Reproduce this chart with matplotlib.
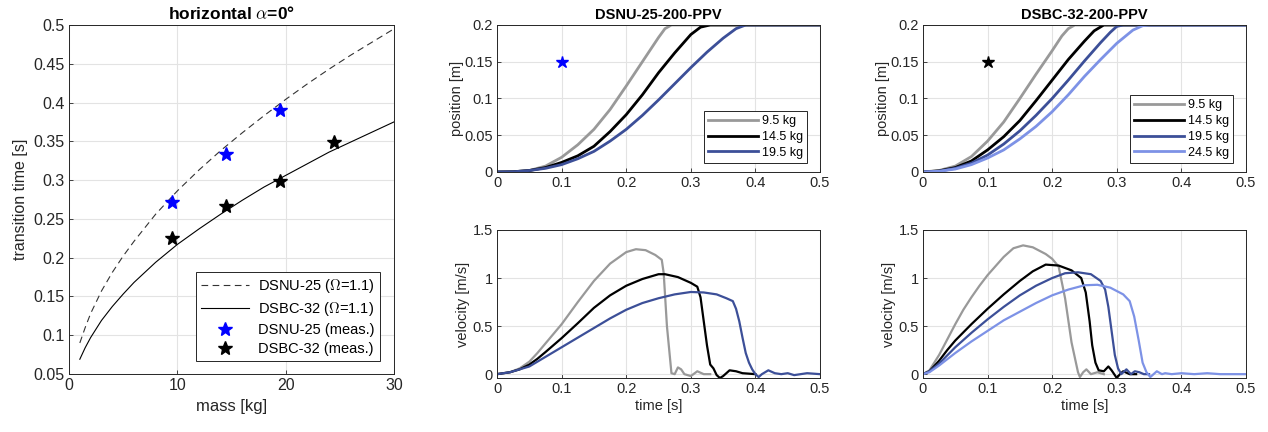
import numpy as np
import matplotlib
matplotlib.use('Agg')
import matplotlib.pyplot as plt

plt.rcParams['font.family'] = ['Liberation Sans', 'DejaVu Sans']
plt.rcParams['mathtext.fontset'] = 'cm'

# transition time vs mass (model curves)
mass_model = [1, 1.5, 2, 3, 4, 5, 6, 8, 10, 12, 14, 16, 18, 20, 22, 24, 26, 28, 30]
t_dsnu_model = [0.090, 0.110, 0.128, 0.157, 0.181, 0.202, 0.221, 0.256, 0.286, 0.313, 0.338,
                0.361, 0.383, 0.404, 0.424, 0.443, 0.461, 0.478, 0.495]
t_dsbc_model = [0.069, 0.084, 0.097, 0.119, 0.137, 0.153, 0.168, 0.194, 0.217, 0.237, 0.256,
                0.274, 0.291, 0.306, 0.321, 0.336, 0.349, 0.362, 0.375]
mass_dsnu_meas = [9.5, 14.5, 19.5]
t_dsnu_meas = [0.272, 0.333, 0.391]
mass_dsbc_meas = [9.5, 14.5, 19.5, 24.5]
t_dsbc_meas = [0.225, 0.267, 0.299, 0.349]

# DSNU-25-200-PPV position
dsnu_pos_t = {
    '9.5 kg': [0, 0.025, 0.05, 0.075, 0.1, 0.125, 0.15, 0.175, 0.2, 0.225, 0.25, 0.26, 0.27, 0.5],
    '14.5 kg': [0, 0.025, 0.05, 0.075, 0.1, 0.125, 0.15, 0.175, 0.2, 0.225, 0.25, 0.275, 0.3, 0.315, 0.33, 0.5],
    '19.5 kg': [0, 0.025, 0.05, 0.075, 0.1, 0.125, 0.15, 0.175, 0.2, 0.225, 0.25, 0.275, 0.3, 0.325, 0.35, 0.37, 0.385, 0.5],
}
dsnu_pos = {
    '9.5 kg': [0, 0.0003, 0.002, 0.008, 0.02, 0.037, 0.058, 0.085, 0.117, 0.15, 0.183, 0.195, 0.2, 0.2],
    '14.5 kg': [0, 0.0003, 0.002, 0.006, 0.013, 0.022, 0.035, 0.055, 0.078, 0.105, 0.135, 0.162, 0.187, 0.197, 0.2, 0.2],
    '19.5 kg': [0, 0.0003, 0.002, 0.005, 0.01, 0.018, 0.028, 0.042, 0.058, 0.077, 0.098, 0.12, 0.142, 0.163, 0.182, 0.195, 0.2, 0.2],
}
# DSNU-25-200-PPV velocity
dsnu_vel_t = {
    '9.5 kg': [0, 0.02, 0.035, 0.05, 0.0625, 0.075, 0.0875, 0.1, 0.125, 0.15, 0.175, 0.2, 0.215, 0.23, 0.245,
               0.255, 0.258, 0.263, 0.27, 0.275, 0.28, 0.285, 0.29, 0.3, 0.31, 0.32, 0.33],
    '14.5 kg': [0, 0.02, 0.035, 0.05, 0.0625, 0.075, 0.1, 0.125, 0.15, 0.175, 0.2, 0.225, 0.25, 0.26, 0.28,
                0.3, 0.31, 0.315, 0.32, 0.325, 0.33, 0.335, 0.34, 0.345, 0.35, 0.36, 0.37, 0.38, 0.4],
    '19.5 kg': [0, 0.02, 0.035, 0.05, 0.075, 0.1, 0.125, 0.15, 0.175, 0.2, 0.225, 0.25, 0.275, 0.3, 0.32,
                0.34, 0.355, 0.365, 0.37, 0.375, 0.38, 0.385, 0.39, 0.395, 0.4, 0.405, 0.41, 0.42, 0.43,
                0.44, 0.45, 0.46, 0.47, 0.48, 0.5],
}
dsnu_vel = {
    '9.5 kg': [0, 0.02, 0.06, 0.13, 0.22, 0.32, 0.42, 0.52, 0.75, 0.97, 1.15, 1.27, 1.30, 1.29, 1.24,
               1.19, 1.05, 0.5, 0.01, 0.0, 0.07, 0.05, 0.0, -0.02, 0.03, 0.0, 0.0],
    '14.5 kg': [0, 0.02, 0.05, 0.1, 0.16, 0.23, 0.375, 0.53, 0.69, 0.82, 0.92, 0.99, 1.04, 1.04, 1.01,
                0.95, 0.91, 0.8, 0.55, 0.3, 0.1, 0.06, -0.01, -0.04, -0.02, 0.04, 0.03, 0.01, 0.0],
    '19.5 kg': [0, 0.02, 0.05, 0.08, 0.18, 0.28, 0.38, 0.48, 0.58, 0.67, 0.74, 0.79, 0.83, 0.855, 0.85,
                0.83, 0.79, 0.76, 0.68, 0.55, 0.38, 0.22, 0.12, 0.05, 0.0, -0.03, 0.0, 0.04, 0.01,
                0.0, 0.01, -0.01, 0.0, 0.01, 0.0],
}

# DSBC-32-200-PPV position
dsbc_pos_t = {
    '9.5 kg': [0, 0.025, 0.05, 0.075, 0.1, 0.125, 0.15, 0.175, 0.2, 0.215, 0.225, 0.235, 0.5],
    '14.5 kg': [0, 0.025, 0.05, 0.075, 0.1, 0.125, 0.15, 0.175, 0.2, 0.225, 0.25, 0.265, 0.28, 0.5],
    '19.5 kg': [0, 0.025, 0.05, 0.075, 0.1, 0.125, 0.15, 0.175, 0.2, 0.225, 0.25, 0.275, 0.29, 0.3, 0.31, 0.5],
    '24.5 kg': [0, 0.025, 0.05, 0.075, 0.1, 0.125, 0.15, 0.175, 0.2, 0.225, 0.25, 0.275, 0.3, 0.325, 0.34, 0.35, 0.5],
}
dsbc_pos = {
    '9.5 kg': [0, 0.002, 0.008, 0.021, 0.042, 0.068, 0.1, 0.133, 0.165, 0.185, 0.195, 0.2, 0.2],
    '14.5 kg': [0, 0.0015, 0.006, 0.015, 0.03, 0.048, 0.07, 0.097, 0.125, 0.153, 0.178, 0.192, 0.2, 0.2],
    '19.5 kg': [0, 0.001, 0.005, 0.012, 0.023, 0.038, 0.056, 0.077, 0.1, 0.125, 0.151, 0.176, 0.19, 0.198, 0.2, 0.2],
    '24.5 kg': [0, 0.001, 0.004, 0.01, 0.019, 0.03, 0.045, 0.062, 0.082, 0.105, 0.13, 0.153, 0.175, 0.193, 0.199, 0.2, 0.2],
}
# DSBC-32-200-PPV velocity
dsbc_vel_t = {
    '9.5 kg': [0, 0.01, 0.025, 0.0375, 0.05, 0.0625, 0.075, 0.0875, 0.1, 0.125, 0.14, 0.155, 0.17, 0.19,
               0.2, 0.21, 0.22, 0.23, 0.24, 0.243, 0.248, 0.253, 0.26, 0.27, 0.28],
    '14.5 kg': [0, 0.01, 0.025, 0.0375, 0.05, 0.075, 0.1, 0.125, 0.15, 0.17, 0.19, 0.21, 0.23, 0.245, 0.252,
                0.258, 0.262, 0.267, 0.272, 0.28, 0.287, 0.292, 0.296, 0.3, 0.305, 0.31, 0.32, 0.33],
    '19.5 kg': [0, 0.01, 0.025, 0.05, 0.075, 0.1, 0.125, 0.15, 0.175, 0.2, 0.22, 0.24, 0.26, 0.275, 0.282,
                0.287, 0.292, 0.297, 0.302, 0.307, 0.315, 0.322, 0.328, 0.335, 0.342, 0.35],
    '24.5 kg': [0, 0.01, 0.025, 0.05, 0.075, 0.1, 0.125, 0.15, 0.175, 0.2, 0.225, 0.25, 0.27, 0.29, 0.31,
                0.32, 0.327, 0.334, 0.34, 0.346, 0.352, 0.357, 0.362, 0.37, 0.375, 0.385, 0.4, 0.42,
                0.44, 0.46, 0.48, 0.5],
}
dsbc_vel = {
    '9.5 kg': [0, 0.04, 0.2, 0.36, 0.52, 0.67, 0.8, 0.92, 1.03, 1.22, 1.31, 1.34, 1.32, 1.25, 1.2, 1.12,
               0.79, 0.33, 0.02, -0.03, 0.02, 0.05, 0.0, 0.02, 0.0],
    '14.5 kg': [0, 0.03, 0.14, 0.25, 0.35, 0.52, 0.68, 0.83, 0.97, 1.07, 1.14, 1.13, 1.08, 1.0, 0.85, 0.55,
                0.3, 0.12, 0.04, 0.03, 0.08, 0.04, 0.0, -0.04, 0.0, 0.03, 0.0, 0.0],
    '19.5 kg': [0, 0.03, 0.11, 0.28, 0.43, 0.57, 0.7, 0.82, 0.92, 1.0, 1.05, 1.06, 1.04, 0.97, 0.88,
                0.7, 0.45, 0.2, 0.06, 0.0, 0.05, 0.0, 0.03, 0.02, 0.0, 0.0],
    '24.5 kg': [0, 0.02, 0.09, 0.22, 0.34, 0.45, 0.56, 0.65, 0.74, 0.82, 0.88, 0.925, 0.93, 0.9, 0.83,
                0.76, 0.6, 0.35, 0.12, 0.02, -0.03, 0.0, 0.03, 0.0, 0.01, 0.0, 0.01, 0.0,
                0.01, 0.0, 0.0, 0.0],
}

colors = {'9.5 kg': '#999999', '14.5 kg': '#000000', '19.5 kg': '#3c4f98', '24.5 kg': '#7d92e6'}
txt = '#262626'


def style(ax, fs):
    ax.grid(True, color='#e3e3e3', linewidth=0.8)
    ax.set_axisbelow(True)
    ax.tick_params(direction='in', length=3, labelsize=fs, colors=txt, width=0.6, pad=3)
    for s in ax.spines.values():
        s.set_color('#262626')
        s.set_linewidth(0.7)


fig = plt.figure(figsize=(12.68, 4.32), dpi=100)

# left panel
ax = fig.add_axes([0.0544, 0.1343, 0.2563, 0.8079])
ax.plot(mass_model, t_dsnu_model, '--', color='#333333', lw=0.8, dashes=(6, 4), label=r'DSNU-25 ($\Omega$=1.1)')
ax.plot(mass_model, t_dsbc_model, '-', color='#000000', lw=0.8, label=r'DSBC-32 ($\Omega$=1.1)')
ax.plot(mass_dsnu_meas, t_dsnu_meas, '*', color='#0000ff', ms=10, label='DSNU-25 (meas.)')
ax.plot(mass_dsbc_meas, t_dsbc_meas, '*', color='#000000', ms=10, label='DSBC-32 (meas.)')
ax.set_xlim(0, 30)
ax.set_ylim(0.05, 0.5)
ax.set_xticks([0, 10, 20, 30])
ax.set_yticks(np.arange(0.05, 0.51, 0.05))
ax.set_yticklabels(['0.05', '0.1', '0.15', '0.2', '0.25', '0.3', '0.35', '0.4', '0.45', '0.5'])
style(ax, 11.5)
ax.set_xlabel('mass [kg]', fontsize=12, color=txt)
ax.set_ylabel('transition time [s]', fontsize=11.5, color=txt)
ax.set_title(r'horizontal $\alpha$=0°', fontsize=12.5, fontweight='bold', pad=4)
leg = ax.legend(loc='lower right', bbox_to_anchor=(0.957, 0.037), borderaxespad=0, fontsize=10.5,
                fancybox=False, edgecolor='#262626', handlelength=3.3, labelspacing=0.35,
                borderpad=0.35, handletextpad=0.6, framealpha=1)
leg.get_frame().set_linewidth(0.7)

panels = [
    (0.392, 'DSNU-25-200-PPV', dsnu_pos_t, dsnu_pos, dsnu_vel_t, dsnu_vel, '#0000ff'),
    (0.7279, 'DSBC-32-200-PPV', dsbc_pos_t, dsbc_pos, dsbc_vel_t, dsbc_vel, '#000000'),
]
for left, title, pt, pv, vt, vv, star_col in panels:
    axp = fig.add_axes([left, 0.6019, 0.2547, 0.3403])
    for k in pt:
        axp.plot(pt[k], pv[k], color=colors[k], lw=2, label=k)
    axp.plot([0.1], [0.15], '*', color=star_col, ms=9)
    axp.set_xlim(0, 0.5)
    axp.set_ylim(0, 0.2)
    axp.set_xticks(np.arange(0, 0.51, 0.1))
    axp.set_yticks([0, 0.05, 0.1, 0.15, 0.2])
    axp.set_xticklabels(['0', '0.1', '0.2', '0.3', '0.4', '0.5'])
    axp.set_yticklabels(['0', '0.05', '0.1', '0.15', '0.2'])
    style(axp, 10.5)
    axp.set_ylabel('position [m]', fontsize=10.5, color=txt, labelpad=0)
    axp.set_title(title, fontsize=10.5, fontweight='bold', pad=4)
    lg = axp.legend(loc='lower right', bbox_to_anchor=(0.961, 0.061), borderaxespad=0, fontsize=9,
                    fancybox=False, edgecolor='#262626', handlelength=4.0, labelspacing=0.3,
                    borderpad=0.35, handletextpad=0.3, framealpha=1)
    lg.get_frame().set_linewidth(0.7)

    axv = fig.add_axes([left, 0.125, 0.2547, 0.3426])
    for k in vt:
        axv.plot(vt[k], vv[k], color=colors[k], lw=1.6)
    axv.set_xlim(0, 0.5)
    axv.set_ylim(-0.04, 1.5)
    axv.set_xticks(np.arange(0, 0.51, 0.1))
    axv.set_xticklabels(['0', '0.1', '0.2', '0.3', '0.4', '0.5'])
    axv.set_yticks([0, 0.5, 1, 1.5])
    axv.set_yticklabels(['0', '0.5', '1', '1.5'])
    style(axv, 10.5)
    axv.set_ylabel('velocity [m/s]', fontsize=10.5, color=txt, labelpad=2)
    axv.set_xlabel('time [s]', fontsize=10.5, color=txt, labelpad=2)

fig.savefig('out.png', dpi=100)
plt.close(fig)
